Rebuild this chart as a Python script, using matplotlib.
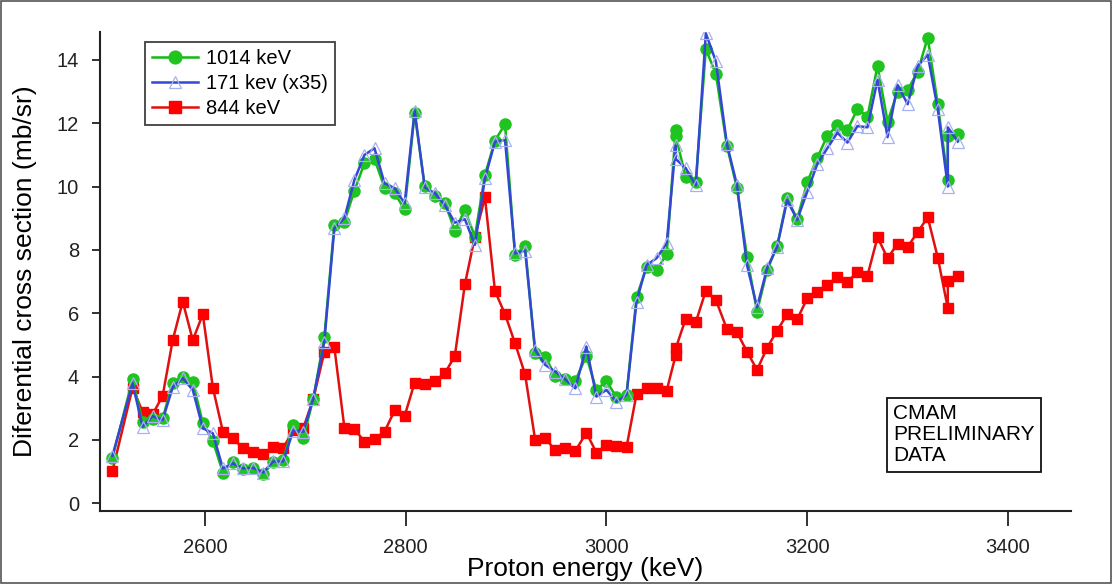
import matplotlib
matplotlib.use("Agg")
import matplotlib.pyplot as plt
from matplotlib.patches import Rectangle

plt.rcParams['font.family'] = ['Liberation Sans', 'DejaVu Sans']

# proton energy (keV), shared by all three series
energy = [2508, 2528, 2538, 2548, 2558, 2568, 2578, 2588, 2598, 2608,
          2618, 2628, 2638, 2648, 2658, 2668, 2678, 2688, 2698, 2708,
          2719, 2729, 2739, 2749, 2759, 2769, 2779, 2789, 2799, 2809,
          2819, 2829, 2839, 2849, 2859, 2869, 2879, 2889, 2899, 2909,
          2919, 2929, 2939, 2949, 2959, 2969, 2980, 2990, 3000, 3010,
          3020, 3030, 3040, 3050, 3060, 3069, 3069, 3079, 3089, 3099,
          3109, 3120, 3130, 3140, 3150, 3160, 3170, 3180, 3190, 3200,
          3210, 3220, 3230, 3240, 3250, 3260, 3270, 3280, 3290, 3300,
          3310, 3320, 3330, 3340, 3340, 3350]

# 1014 keV
g1014 = [1.44, 3.91, 2.58, 2.65, 2.68, 3.81, 4.00, 3.84, 2.53, 1.97,
         0.97, 1.31, 1.07, 1.10, 0.92, 1.29, 1.37, 2.47, 2.05, 3.30,
         5.24, 8.79, 8.89, 9.87, 10.74, 10.87, 9.97, 9.79, 9.28, 12.31,
         10.02, 9.71, 9.49, 8.61, 9.26, 8.42, 10.37, 11.45, 11.97, 7.84,
         8.13, 4.74, 4.63, 4.02, 3.91, 3.87, 4.65, 3.58, 3.86, 3.35,
         3.42, 6.52, 7.45, 7.37, 7.86, 11.79, 11.60, 10.29, 10.15, 14.34,
         13.56, 11.29, 9.95, 7.79, 6.05, 7.35, 8.12, 9.63, 8.97, 10.14,
         10.91, 11.60, 11.94, 11.79, 12.45, 12.21, 13.81, 12.05, 13.00, 13.05,
         13.63, 14.70, 12.60, 10.21, 11.60, 11.66]

# 171 keV scaled x35
b171 = [1.50, 3.79, 2.42, 2.75, 2.63, 3.66, 3.95, 3.58, 2.37, 2.21,
        1.10, 1.26, 1.10, 1.12, 0.97, 1.32, 1.32, 2.29, 2.26, 3.30,
        5.10, 8.68, 9.00, 10.21, 11.00, 11.21, 10.10, 9.95, 9.47, 12.40,
        9.98, 9.79, 9.42, 8.86, 8.97, 8.16, 10.26, 11.42, 11.47, 7.89,
        7.98, 4.84, 4.37, 4.16, 3.91, 3.63, 4.95, 3.37, 3.58, 3.21,
        3.42, 6.37, 7.52, 7.74, 8.21, 11.30, 10.87, 10.58, 10.04, 14.84,
        13.95, 11.34, 10.05, 7.52, 6.19, 7.42, 8.10, 9.57, 8.95, 9.84,
        10.71, 11.21, 11.70, 11.39, 11.91, 11.87, 13.37, 11.56, 13.21, 12.60,
        13.81, 14.16, 12.44, 10.00, 11.87, 11.42]

# 844 keV
r844 = [1.02, 3.65, 2.89, 2.81, 3.39, 5.15, 6.37, 5.15, 5.97, 3.65,
        2.26, 2.05, 1.74, 1.63, 1.55, 1.79, 1.74, 2.31, 2.37, 3.29,
        4.77, 4.93, 2.39, 2.34, 1.95, 2.02, 2.26, 2.93, 2.76, 3.81,
        3.76, 3.86, 4.10, 4.65, 6.91, 8.42, 9.66, 6.70, 5.97, 5.05,
        4.07, 2.00, 2.05, 1.68, 1.74, 1.65, 2.23, 1.60, 1.84, 1.81,
        1.77, 3.45, 3.63, 3.65, 3.56, 4.68, 4.89, 5.83, 5.72, 6.71,
        6.42, 5.50, 5.40, 4.79, 4.21, 4.91, 5.45, 5.97, 5.81, 6.47,
        6.68, 6.89, 7.16, 7.00, 7.29, 7.19, 8.40, 7.74, 8.19, 8.10,
        8.56, 9.03, 7.76, 6.16, 7.02, 7.19]

xticks = [2600, 2800, 3000, 3200, 3400]
yticks = [0, 2, 4, 6, 8, 10, 12, 14]

fig = plt.figure(figsize=(11.12, 5.84), dpi=100)
ax = fig.add_axes([100 / 1112, 73.3 / 584, 971 / 1112, 478.7 / 584])

ax.plot(energy, g1014, color='#14b814', lw=1.8, marker='o', ms=8,
        mfc='#1fc41f', mec='#1fc41f', label='1014 keV', zorder=3)
ax.plot(energy, b171, color='#3346d6', lw=1.8, marker='^', ms=8,
        mfc='none', mec='#a9b0f2', mew=0.9, label='171 kev (x35)', zorder=4)
ax.plot(energy, r844, color='#e01010', lw=1.8, marker='s', ms=7.5,
        mfc='#ff0000', mec='#ff0000', label='844 keV', zorder=2)

ax.set_xlim(2495.6, 3462.7)
ax.set_ylim(-0.234, 14.88)
ax.set_xticks(xticks)
ax.set_yticks(yticks)
ax.spines['top'].set_visible(False)
ax.spines['right'].set_visible(False)
for s in ['left', 'bottom']:
    ax.spines[s].set_linewidth(1.5)
    ax.spines[s].set_color('#222222')
ax.tick_params(axis='x', direction='out', length=11, width=1.3,
               labelsize=14.5, pad=9, colors='#222222')
ax.tick_params(axis='y', direction='out', length=6, width=1.3,
               labelsize=14.5, pad=9, colors='#222222')

ax.set_xlabel('Proton energy (keV)', fontsize=19, labelpad=0)
ax.set_ylabel('Diferential cross section (mb/sr)', fontsize=19, labelpad=14)

leg = ax.legend(loc='upper left', bbox_to_anchor=(0.046, 0.98),
                fontsize=14.5, frameon=True, fancybox=False,
                borderpad=0.35, handlelength=2.3, labelspacing=0.3,
                handletextpad=0.4, borderaxespad=0, markerscale=1.15)
leg.get_frame().set_edgecolor('#111111')
leg.get_frame().set_linewidth(1.3)

ax.text(0.817, 0.223, 'CMAM\nPRELIMINARY\nDATA', transform=ax.transAxes,
        fontsize=15, ha='left', va='top', linespacing=1.15,
        bbox=dict(boxstyle='square,pad=0.3', fc='white', ec='#111111', lw=1.3))

# thin frame around the whole picture
fig.patches.append(Rectangle((0.001, 0.001), 0.998, 0.998, transform=fig.transFigure,
                             fill=False, ec='#555555', lw=1.2))

fig.savefig('out.png', dpi=100)
